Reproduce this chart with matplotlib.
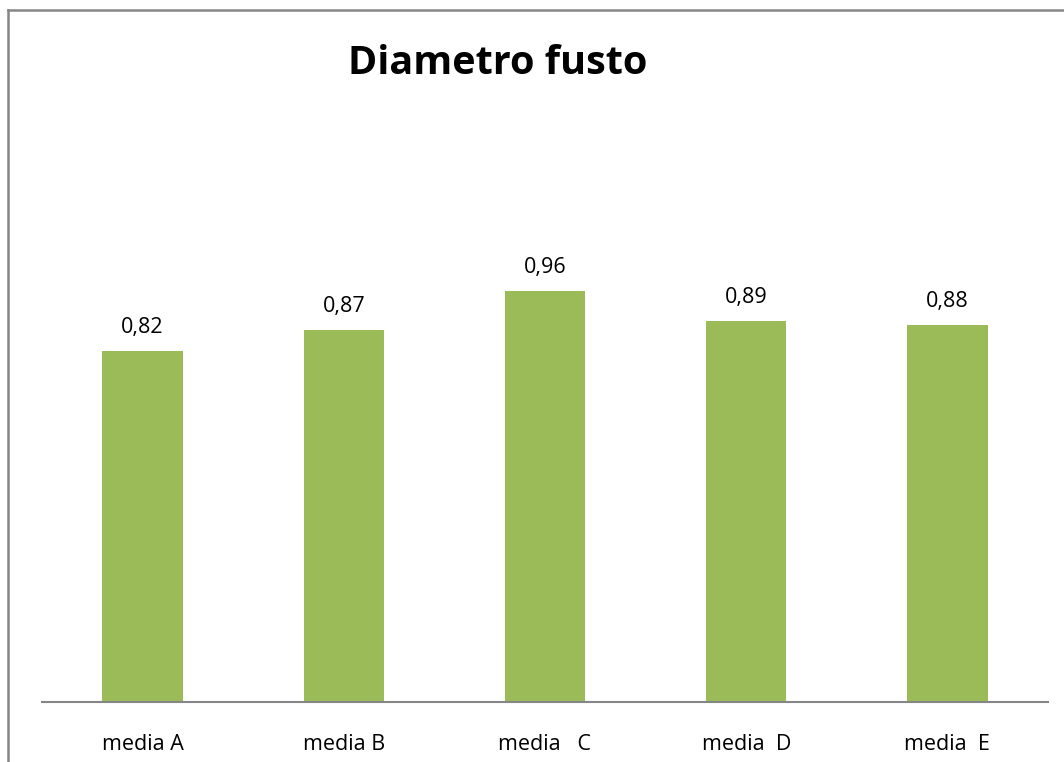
import matplotlib
matplotlib.use("Agg")
import matplotlib.pyplot as plt
from matplotlib.lines import Line2D

categories = ["media A", "media B", "media   C", "media  D", "media  E"]
values = [0.82, 0.87, 0.96, 0.89, 0.88]
value_labels = ["0,82", "0,87", "0,96", "0,89", "0,88"]

plt.rcParams['font.family'] = ['Open Sans', 'DejaVu Sans']

W, H = 1064, 762
fig = plt.figure(figsize=(W / 100, H / 100), dpi=100)

# plot area in pixel terms: baseline at y=702, x from 42 to 1048
ymax = 1.2
px_per_unit = 428
top_px = 702 - ymax * px_per_unit
ax = fig.add_axes([42 / W, (H - 702) / H, (1048 - 42) / W, (702 - top_px) / H])

x = range(len(categories))
bars = ax.bar(x, values, width=0.4, color="#9BBB59")
ax.set_xlim(-0.5, len(categories) - 0.5)
ax.set_ylim(0, ymax)

for xi, v, lab in zip(x, values, value_labels):
    ax.annotate(lab, (xi, v), xytext=(0, 17), textcoords="offset points",
                ha="center", va="center", fontsize=15.5)

ax.set_xticks(list(x))
ax.set_xticklabels(categories, fontsize=15.5)
ax.tick_params(axis="x", length=0, pad=23)
ax.set_yticks([])
for s in ["top", "right", "left"]:
    ax.spines[s].set_visible(False)
ax.spines["bottom"].set_color("#868686")
ax.spines["bottom"].set_linewidth(1.5)

fig.text(498 / W, (H - 64) / H, "Diametro fusto", ha="center", va="center",
         fontsize=28.5, fontweight="bold")

# outer frame, left and top edges
fig.add_artist(Line2D([7.5 / W, 7.5 / W], [0, (H - 9.5) / H], color="#868686", lw=1.8))
fig.add_artist(Line2D([7.5 / W, 1], [(H - 9.5) / H, (H - 9.5) / H], color="#868686", lw=1.8))

fig.savefig("out.png", dpi=100)
